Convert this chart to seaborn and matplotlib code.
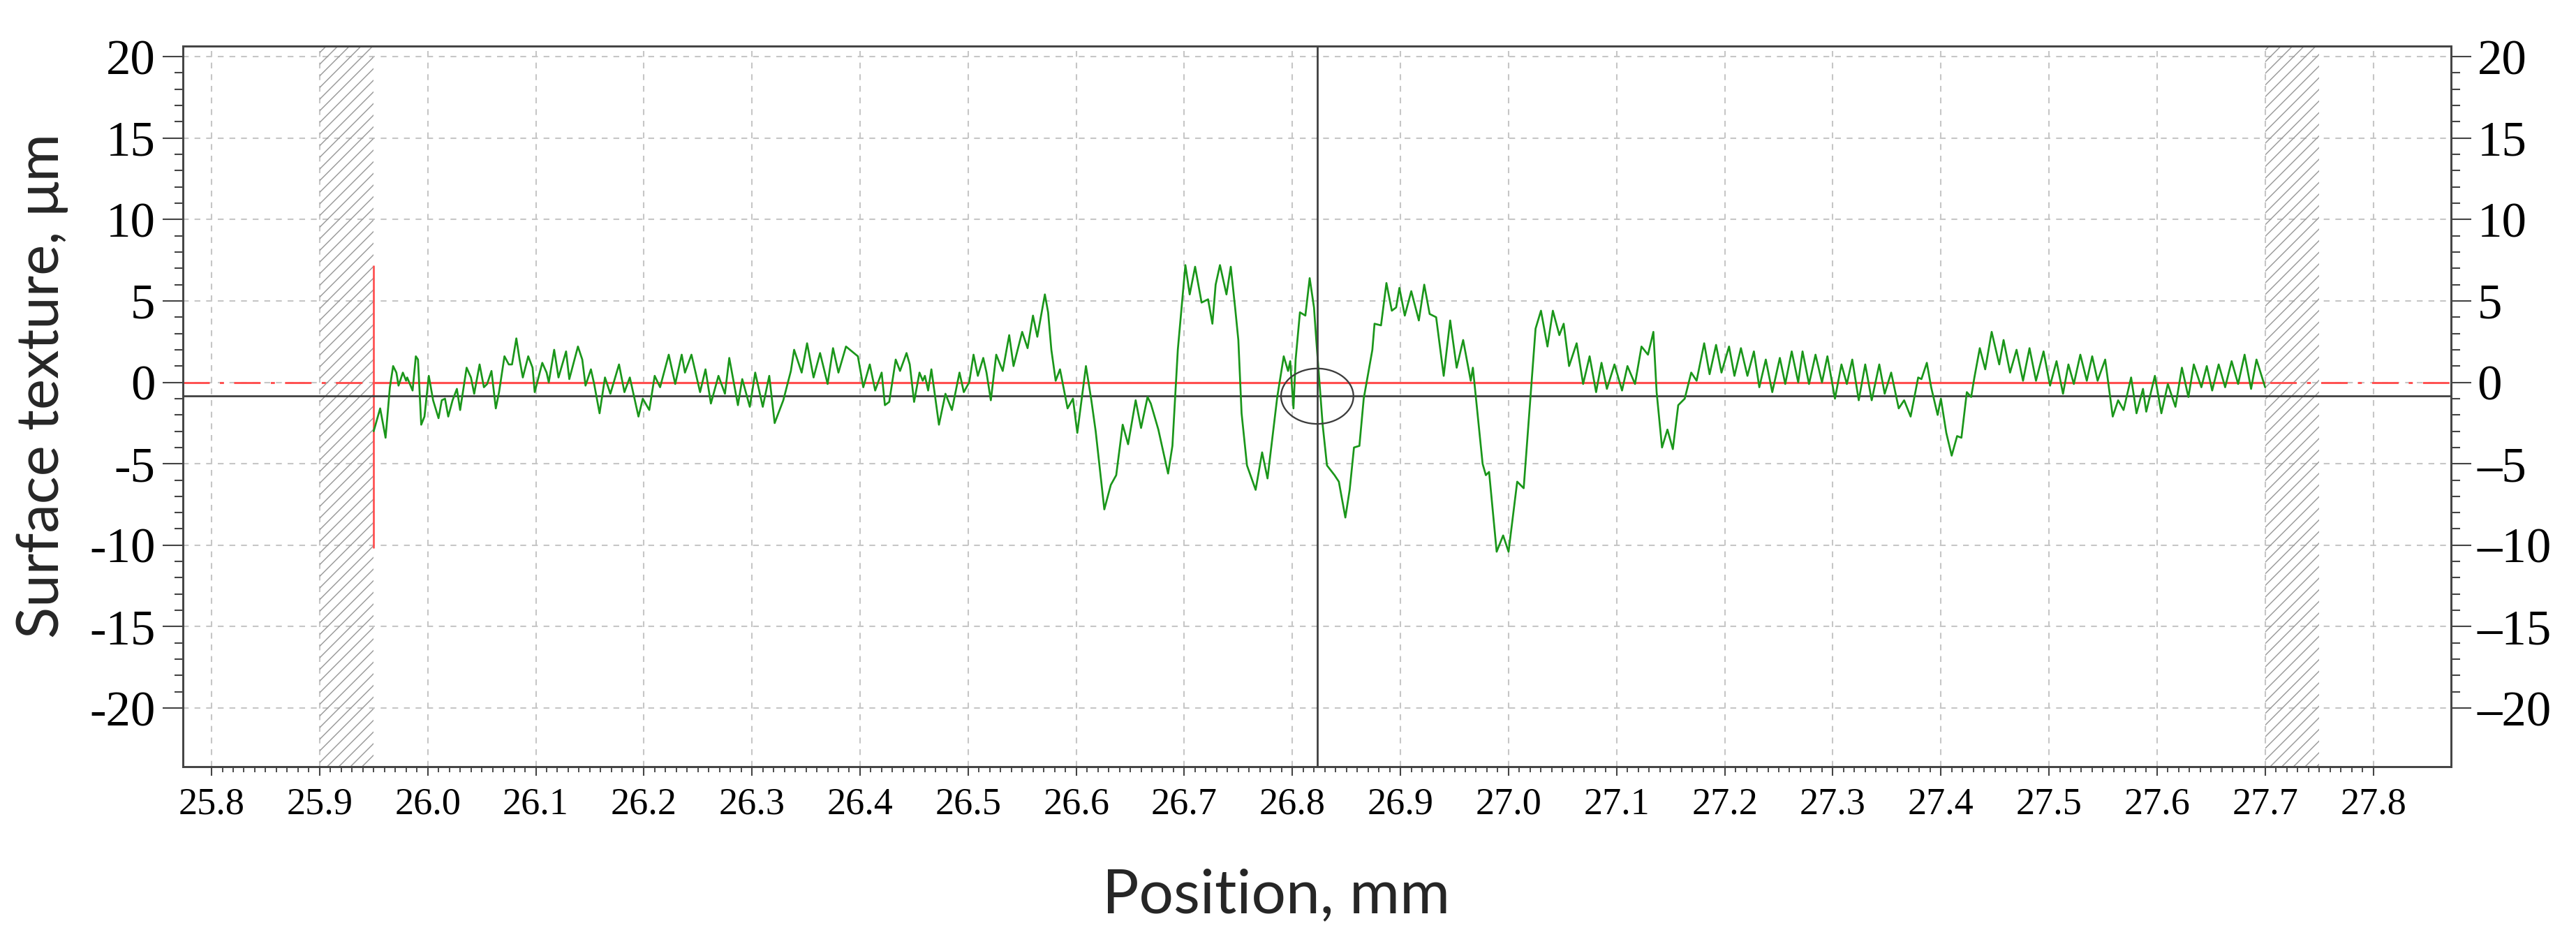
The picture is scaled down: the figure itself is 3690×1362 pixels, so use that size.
import matplotlib
matplotlib.use("Agg")
import matplotlib.pyplot as plt
from matplotlib.patches import Ellipse
from matplotlib.ticker import FixedLocator, FuncFormatter
import numpy as np
import pandas as pd
import seaborn as sns

sns.set_theme(style="ticks")
plt.rcParams["font.family"] = ["Liberation Serif", "DejaVu Serif"]
plt.rcParams["axes.unicode_minus"] = False
plt.rcParams["hatch.linewidth"] = 0.7
plt.rcParams["hatch.color"] = "#9a9a9a"

# ── profile (position in mm, height in µm) ───────────────────────────────────
pos_a = [25.950, 25.956, 25.961, 25.965, 25.968, 25.971, 25.973, 25.977, 25.980, 25.981,
         25.986, 25.989, 25.991, 25.994, 25.997, 26.001, 26.005, 26.010, 26.013, 26.016,
         26.019, 26.023, 26.027, 26.030, 26.036, 26.040, 26.043, 26.048, 26.052, 26.055,
         26.059, 26.063, 26.066, 26.071, 26.075, 26.078, 26.082, 26.085, 26.088, 26.093,
         26.097, 26.099, 26.106, 26.110, 26.112, 26.117, 26.121, 26.128, 26.131, 26.139,
         26.143, 26.146, 26.151, 26.154, 26.159, 26.164, 26.169, 26.177, 26.182, 26.187,
         26.195, 26.199, 26.205, 26.210, 26.215, 26.223, 26.229, 26.235, 26.238, 26.244,
         26.252, 26.257, 26.262, 26.269, 26.275, 26.279, 26.287, 26.291, 26.298, 26.303,
         26.310, 26.316, 26.321, 26.329, 26.336, 26.339, 26.346, 26.351, 26.357, 26.363,
         26.370, 26.375, 26.380, 26.387]
height_a = [-3.0, -1.6, -3.4, -0.3, 1.0, 0.6, -0.2, 0.6, 0.1, 0.3,
            -0.5, 1.6, 1.4, -2.6, -2.1, 0.4, -1.1, -2.2, -1.1, -1.0,
            -2.1, -1.1, -0.4, -1.7, 0.9, 0.3, -0.7, 1.1, -0.3, -0.1,
            0.7, -1.6, -0.6, 1.6, 1.1, 1.1, 2.7, 1.4, 0.3, 1.6,
            0.9, -0.6, 1.2, 0.6, 0.0, 2.0, 0.3, 1.9, 0.2, 2.2,
            1.4, -0.2, 0.8, -0.1, -1.9, 0.3, -0.7, 1.1, -0.6, 0.3,
            -2.1, -1.0, -1.7, 0.4, -0.3, 1.7, -0.1, 1.7, 0.6, 1.7,
            -0.6, 0.8, -1.3, 0.4, -0.7, 1.5, -1.4, 0.2, -1.5, 0.6,
            -1.5, 0.4, -2.5, -1.1, 0.7, 2.0, 0.6, 2.4, 0.3, 1.8,
            -0.1, 2.1, 0.6, 2.2]

pos_b = [26.398, 26.403, 26.409, 26.414, 26.420, 26.423, 26.427, 26.433, 26.437, 26.443,
         26.446, 26.450, 26.455, 26.458, 26.460, 26.463, 26.466, 26.473, 26.479, 26.485,
         26.492, 26.496, 26.501, 26.505, 26.509, 26.514, 26.517, 26.521, 26.526, 26.532,
         26.538, 26.542, 26.550, 26.555, 26.560, 26.564, 26.571, 26.574, 26.577, 26.581,
         26.585, 26.592, 26.597, 26.601, 26.609, 26.614, 26.618, 26.626, 26.632, 26.637,
         26.643, 26.648, 26.655, 26.660, 26.666, 26.669, 26.676, 26.685, 26.689, 26.694,
         26.701]
height_b = [1.6, -0.3, 1.1, -0.5, 0.6, -1.4, -1.2, 1.4, 0.7, 1.8,
            1.1, -1.2, 0.6, 0.1, 0.4, -0.5, 0.8, -2.6, -0.7, -1.7,
            0.6, -0.6, 0.0, 1.7, 0.4, 1.5, 0.6, -1.1, 1.7, 0.7,
            2.9, 1.0, 3.1, 2.1, 4.1, 2.8, 5.4, 4.3, 2.0, 0.1,
            0.8, -1.6, -1.0, -3.1, 1.0, -1.1, -3.0, -7.8, -6.3, -5.7,
            -2.6, -3.8, -1.1, -2.8, -0.9, -1.3, -2.9, -5.6, -3.9, 2.0,
            7.2]

pos_c = [26.705, 26.710, 26.716, 26.722, 26.726, 26.729, 26.733, 26.739, 26.743, 26.747,
         26.750, 26.753, 26.758, 26.766, 26.772, 26.777, 26.786, 26.792, 26.796, 26.798,
         26.801, 26.803, 26.807, 26.812, 26.816, 26.820, 26.822, 26.828, 26.832, 26.839,
         26.843, 26.849, 26.853, 26.857, 26.862, 26.866, 26.874, 26.876, 26.882, 26.887,
         26.892, 26.896, 26.899]
height_c = [5.4, 7.1, 4.9, 5.1, 3.6, 6.0, 7.2, 5.4, 7.1, 4.6,
            2.6, -1.9, -5.1, -6.6, -4.3, -5.9, -0.9, 1.6, 0.7, 1.3,
            -1.6, 1.4, 4.3, 4.1, 6.4, 4.6, 2.7, -2.6, -5.1, -5.7,
            -6.1, -8.3, -6.6, -4.0, -3.9, -1.0, 2.0, 3.6, 3.5, 6.1,
            4.4, 4.6, 5.8]

pos_d = [26.904, 26.910, 26.917, 26.922, 26.927, 26.933, 26.940, 26.946, 26.952, 26.958,
         26.965, 26.967, 26.976, 26.979, 26.982, 26.989, 26.995, 27.000, 27.008, 27.014,
         27.025, 27.030, 27.036, 27.041, 27.047, 27.051, 27.056, 27.063, 27.069, 27.075,
         27.081, 27.086, 27.091, 27.098, 27.105, 27.110, 27.117, 27.123, 27.129, 27.134,
         27.137, 27.142, 27.147, 27.152, 27.157, 27.163, 27.169, 27.174, 27.181, 27.186,
         27.192, 27.197, 27.204, 27.209, 27.215, 27.221, 27.227, 27.232, 27.238, 27.244,
         27.251, 27.256, 27.262, 27.268]
height_d = [4.1, 5.6, 3.8, 6.0, 4.2, 4.0, 0.4, 3.8, 0.9, 2.6,
            0.1, 0.9, -5.0, -5.7, -5.5, -10.4, -9.4, -10.4, -6.1, -6.5,
            3.3, 4.4, 2.2, 4.4, 2.9, 3.6, 1.0, 2.4, -0.1, 1.6,
            -0.6, 1.2, -0.4, 1.1, -0.5, 1.0, -0.1, 2.2, 1.7, 3.1,
            -0.6, -4.0, -2.9, -4.1, -1.4, -1.0, 0.6, 0.1, 2.4, 0.5,
            2.3, 0.6, 2.2, 0.4, 2.1, 0.4, 1.9, -0.3, 1.4, -0.6,
            1.5, -0.1, 1.9, 0.0]

pos_e = [27.272, 27.278, 27.284, 27.290, 27.295, 27.302, 27.308, 27.313, 27.318, 27.324,
         27.330, 27.336, 27.343, 27.348, 27.354, 27.361, 27.366, 27.372, 27.379, 27.382,
         27.387, 27.391, 27.397, 27.400, 27.405, 27.410, 27.415, 27.419, 27.424, 27.428,
         27.431, 27.436, 27.441, 27.447, 27.454, 27.458, 27.464, 27.470, 27.476, 27.482,
         27.488, 27.495, 27.501, 27.507, 27.513, 27.518, 27.523, 27.529, 27.535, 27.540,
         27.545, 27.552, 27.559, 27.564, 27.569, 27.576, 27.581, 27.587, 27.590, 27.598,
         27.604, 27.610, 27.617, 27.623, 27.629, 27.634, 27.641, 27.646, 27.651, 27.657,
         27.663, 27.669, 27.675, 27.681, 27.687, 27.692, 27.700]
height_e = [1.9, -0.1, 1.7, 0.0, 1.6, -1.0, 1.1, -0.1, 1.4, -1.1,
            1.1, -1.1, 1.1, -0.7, 0.6, -1.6, -1.1, -2.1, 0.3, 0.2,
            1.2, -0.3, -2.0, -1.0, -3.1, -4.5, -3.3, -3.4, -0.6, -0.9,
            0.3, 2.1, 0.8, 3.1, 1.1, 2.6, 0.6, 2.0, 0.1, 2.1,
            0.1, 1.9, -0.2, 1.3, -0.7, 1.1, -0.1, 1.7, 0.1, 1.6,
            0.1, 1.4, -2.1, -1.1, -1.7, 0.3, -1.9, -0.4, -1.8, 0.4,
            -1.9, -0.1, -1.5, 0.9, -0.9, 1.1, -0.3, 1.0, -0.5, 1.1,
            -0.3, 1.3, -0.1, 1.7, -0.4, 1.4, -0.3]

# evaluation window, excluded bands, cursor
EVAL_START, EVAL_END = 25.95, 27.70
EXCLUDED = [(25.90, 25.95), (27.70, 27.75)]
MARKER_LOW, MARKER_HIGH = -10.2, 7.2
CURSOR_X, CURSOR_Y = 26.823, -0.85

x_major = [round(25.8 + 0.1 * i, 1) for i in range(21)]
x_minor = [round(25.8 + 0.01 * i, 2) for i in range(201)]
y_major = [-20, -15, -10, -5, 0, 5, 10, 15, 20]
y_minor = list(range(-20, 21))

profile = pd.DataFrame({
    "pos": pos_a + pos_b + pos_c + pos_d + pos_e,
    "height": height_a + height_b + height_c + height_d + height_e,
})

W, H = 3690, 1362
fig = plt.figure(figsize=(W / 150, H / 150), dpi=150)
ax = fig.add_axes([262 / W, 264 / H, 3249 / W, 1032 / H])

frame = "#444444"
ax.set_xlim(25.7735, 27.872)
ax.set_ylim(-23.6, 20.65)
ax.set_axisbelow(True)

# grid
ax.xaxis.set_major_locator(FixedLocator(x_major))
ax.xaxis.set_minor_locator(FixedLocator(x_minor))
ax.yaxis.set_major_locator(FixedLocator(y_major))
ax.yaxis.set_minor_locator(FixedLocator(y_minor))
ax.xaxis.set_major_formatter(FuncFormatter(lambda v, _: f"{v:.1f}"))
ax.yaxis.set_major_formatter(FuncFormatter(lambda v, _: f"{v:.0f}"))
ax.grid(True, which="major", color="#c6c6c6", linestyle=(0, (4, 4)), linewidth=1.0)

for lo, hi in EXCLUDED:
    ax.axvspan(lo, hi, facecolor="none", edgecolor="#9a9a9a", hatch="///", linewidth=0, zorder=1)

# reference lines
red = "#ff4f4f"
ax.axhline(0, color=red, lw=1.4, ls=(0, (13, 5, 2, 5)), zorder=2)
ax.hlines(0, EVAL_START, EVAL_END, color=red, lw=1.5, zorder=3)
ax.vlines(EVAL_START, MARKER_LOW, MARKER_HIGH, color=red, lw=1.3, zorder=3)
ax.axhline(CURSOR_Y, color="#3c3c3c", lw=1.3, zorder=3)
ax.axvline(CURSOR_X, color="#3c3c3c", lw=1.3, zorder=5)

sns.lineplot(data=profile, x="pos", y="height", ax=ax, color="#1a961a",
             linewidth=1.3, estimator=None, sort=False, zorder=4)
ax.add_patch(Ellipse((CURSOR_X, CURSOR_Y), 0.067, 3.4, fill=False,
                     edgecolor="#3c3c3c", lw=1.1, zorder=6))

ax.set_xlabel("")
ax.set_ylabel("")
for s in ax.spines.values():
    s.set_color(frame)
    s.set_linewidth(1.3)

ax.tick_params(axis="y", which="major", direction="out", length=14, width=1.0,
               color=frame, labelsize=34, pad=5, labelcolor="black")
ax.tick_params(axis="y", which="minor", direction="out", length=6, width=1.0, color=frame)
ax.tick_params(axis="x", which="major", direction="out", length=6, width=1.0,
               color=frame, labelsize=26, pad=8, labelcolor="black")
ax.tick_params(axis="x", which="minor", direction="out", length=3.8, width=0.9, color=frame)

# right-hand scale
ax2 = ax.twinx()
ax2.set_ylim(ax.get_ylim())
ax2.grid(False)
ax2.yaxis.set_major_locator(FixedLocator(y_major))
ax2.yaxis.set_minor_locator(FixedLocator(y_minor))
ax2.yaxis.set_major_formatter(FuncFormatter(lambda v, _: f"{v:.0f}".replace("-", "\u2013")))
ax2.tick_params(axis="y", which="major", direction="out", length=14, width=1.0,
                color=frame, labelsize=34, pad=4, labelcolor="black")
ax2.tick_params(axis="y", which="minor", direction="out", length=6, width=1.0, color=frame)
for s in ax2.spines.values():
    s.set_color(frame)
    s.set_linewidth(1.3)

sans = ["Lato", "DejaVu Sans"]
fig.text(0.4954, 55 / H, "Position, mm", ha="center", va="baseline",
         fontsize=42, family=sans)
fig.text(0.0165, 0.594, "Surface texture, \u03bcm", rotation=90, ha="center",
         va="center", fontsize=40, family=sans)

fig.savefig("out.png", dpi=150)
